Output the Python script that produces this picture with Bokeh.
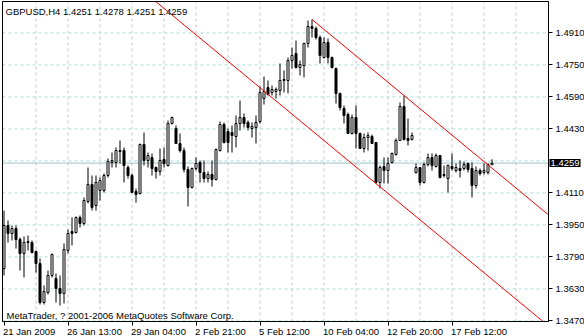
from bokeh.plotting import figure
from bokeh.models import Range1d, FixedTicker, Label, NumeralTickFormatter, CustomJSTickFormatter
from bokeh.embed import file_html
from bokeh.resources import INLINE

symbol = "GBPUSD,H4"
last_ohlc = [1.4251, 1.4278, 1.4251, 1.4259]
copyright_text = "MetaTrader, ? 2001-2006 MetaQuotes Software Corp."

opens = [1.3732, 1.3947, 1.3907, 1.3932, 1.3877, 1.3807, 1.3862, 1.3862, 1.3817, 1.3757,
         1.3562, 1.3612, 1.3697, 1.3682, 1.3632, 1.3607, 1.3822, 1.3917, 1.3912, 1.3987,
         1.3957, 1.4067, 1.4152, 1.4047, 1.4122, 1.4122, 1.4197, 1.4262, 1.4262, 1.4317,
         1.4322, 1.4237, 1.4197, 1.4117, 1.4107, 1.4352, 1.4272, 1.4287, 1.4237, 1.4217,
         1.4277, 1.4247, 1.4457, 1.4432, 1.4357, 1.4322, 1.4227, 1.4137, 1.4232, 1.4262,
         1.4212, 1.4182, 1.4202, 1.4177, 1.4322, 1.4452, 1.4417, 1.4412, 1.4392, 1.4457,
         1.4487, 1.4462, 1.4432, 1.4437, 1.4467, 1.4582, 1.4637, 1.4612, 1.4617, 1.4622,
         1.4672, 1.4672, 1.4772, 1.4807, 1.4737, 1.4747, 1.4857, 1.4942, 1.4932, 1.4887,
         1.4787, 1.4862, 1.4787, 1.4732, 1.4607, 1.4532, 1.4502, 1.4407, 1.4487, 1.4407,
         1.4332, 1.4387, 1.4392, 1.4362, 1.4162, 1.4242, 1.4222, 1.4262, 1.4302, 1.4372,
         1.4542, 1.4382, 1.4377, 1.4212, 1.4237, 1.4162, 1.4252, 1.4287, 1.4242, 1.4297,
         1.4197, 1.4182, 1.4242, 1.4222, 1.4232, 1.4232, 1.4257, 1.4232, 1.4147, 1.4222,
         1.4212, 1.4212, 1.4251]
highs = [1.4022, 1.3972, 1.3947, 1.3947, 1.3887, 1.3892, 1.3897, 1.3872, 1.3822, 1.3782,
         1.3647, 1.3722, 1.3807, 1.3707, 1.3697, 1.3857, 1.3927, 1.3987, 1.3992, 1.3997,
         1.4087, 1.4237, 1.4197, 1.4197, 1.4187, 1.4207, 1.4282, 1.4312, 1.4337, 1.4372,
         1.4337, 1.4247, 1.4207, 1.4132, 1.4357, 1.4412, 1.4312, 1.4307, 1.4242, 1.4332,
         1.4337, 1.4472, 1.4492, 1.4447, 1.4407, 1.4337, 1.4242, 1.4237, 1.4287, 1.4272,
         1.4272, 1.4217, 1.4272, 1.4332, 1.4467, 1.4462, 1.4432, 1.4447, 1.4497, 1.4572,
         1.4507, 1.4472, 1.4462, 1.4497, 1.4642, 1.4692, 1.4672, 1.4647, 1.4637, 1.4757,
         1.4722, 1.4787, 1.4837, 1.4872, 1.4772, 1.4862, 1.4972, 1.4977, 1.4942, 1.4897,
         1.4887, 1.4882, 1.4792, 1.4737, 1.4612, 1.4547, 1.4512, 1.4502, 1.4547, 1.4412,
         1.4407, 1.4412, 1.4402, 1.4362, 1.4247, 1.4287, 1.4287, 1.4312, 1.4382, 1.4562,
         1.4597, 1.4482, 1.4412, 1.4257, 1.4237, 1.4262, 1.4307, 1.4307, 1.4307, 1.4297,
         1.4247, 1.4252, 1.4307, 1.4257, 1.4272, 1.4267, 1.4262, 1.4262, 1.4242, 1.4232,
         1.4257, 1.4257, 1.4278]
lows = [1.3697, 1.3862, 1.3872, 1.3832, 1.3722, 1.3687, 1.3822, 1.3807, 1.3712, 1.3552,
        1.3552, 1.3602, 1.3687, 1.3562, 1.3547, 1.3557, 1.3807, 1.3847, 1.3907, 1.3937,
        1.3947, 1.4057, 1.4022, 1.4022, 1.4072, 1.4112, 1.4187, 1.4237, 1.4237, 1.4257,
        1.4162, 1.4182, 1.4112, 1.4062, 1.4102, 1.4247, 1.4237, 1.4197, 1.4182, 1.4197,
        1.4237, 1.4242, 1.4452, 1.4357, 1.4312, 1.4212, 1.4042, 1.4132, 1.4222, 1.4162,
        1.4162, 1.4162, 1.4142, 1.4172, 1.4317, 1.4357, 1.4312, 1.4312, 1.4337, 1.4422,
        1.4437, 1.4422, 1.4387, 1.4357, 1.4457, 1.4552, 1.4597, 1.4597, 1.4582, 1.4597,
        1.4612, 1.4607, 1.4732, 1.4732, 1.4697, 1.4687, 1.4837, 1.4887, 1.4877, 1.4757,
        1.4782, 1.4757, 1.4732, 1.4557, 1.4522, 1.4457, 1.4407, 1.4402, 1.4332, 1.4332,
        1.4312, 1.4322, 1.4357, 1.4157, 1.4132, 1.4157, 1.4157, 1.4257, 1.4297, 1.4372,
        1.4372, 1.4347, 1.4372, 1.4207, 1.4147, 1.4157, 1.4242, 1.4222, 1.4237, 1.4182,
        1.4187, 1.4112, 1.4222, 1.4212, 1.4187, 1.4222, 1.4212, 1.4087, 1.4132, 1.4197,
        1.4202, 1.4202, 1.4251]
closes = [1.3947, 1.3907, 1.3932, 1.3877, 1.3807, 1.3862, 1.3867, 1.3812, 1.3757, 1.3562,
          1.3617, 1.3697, 1.3802, 1.3632, 1.3607, 1.3827, 1.3907, 1.3907, 1.3987, 1.3957,
          1.4072, 1.4152, 1.4037, 1.4162, 1.4172, 1.4197, 1.4267, 1.4272, 1.4322, 1.4322,
          1.4247, 1.4197, 1.4112, 1.4102, 1.4352, 1.4272, 1.4297, 1.4232, 1.4217, 1.4272,
          1.4257, 1.4457, 1.4487, 1.4357, 1.4322, 1.4227, 1.4137, 1.4232, 1.4257, 1.4212,
          1.4182, 1.4202, 1.4177, 1.4327, 1.4452, 1.4362, 1.4362, 1.4397, 1.4457, 1.4487,
          1.4457, 1.4437, 1.4442, 1.4462, 1.4612, 1.4617, 1.4602, 1.4627, 1.4627, 1.4672,
          1.4677, 1.4772, 1.4797, 1.4737, 1.4752, 1.4857, 1.4942, 1.4932, 1.4887, 1.4797,
          1.4862, 1.4787, 1.4737, 1.4607, 1.4537, 1.4497, 1.4407, 1.4487, 1.4407, 1.4332,
          1.4387, 1.4397, 1.4357, 1.4162, 1.4237, 1.4222, 1.4257, 1.4307, 1.4372, 1.4542,
          1.4377, 1.4372, 1.4397, 1.4237, 1.4162, 1.4252, 1.4287, 1.4247, 1.4297, 1.4187,
          1.4202, 1.4247, 1.4232, 1.4237, 1.4222, 1.4252, 1.4227, 1.4147, 1.4222, 1.4207,
          1.4222, 1.4252, 1.4259]

time_label_bars = [0, 16, 32, 48, 64, 80, 96, 112]
time_labels = ["21 Jan 2009", "26 Jan 13:00", "29 Jan 04:00", "2 Feb 21:00",
               "5 Feb 12:00", "10 Feb 04:00", "12 Feb 20:00", "17 Feb 12:00"]
price_ticks = [1.4910, 1.4750, 1.4590, 1.4430, 1.4110, 1.3950, 1.3790, 1.3630, 1.3470]
price_grid = [1.4910, 1.4750, 1.4590, 1.4430, 1.4270, 1.4110, 1.3950, 1.3790, 1.3630, 1.3470]
bid = 1.4259
channel_bars = [77, 100]
channel_prices = [1.4977, 1.4597]
channel_low_bar = 93

FONT = "Liberation Sans"
FS = "9.5px"
W, H = 584, 336
n = len(opens)
xs = list(range(n))

# chart area (bars / prices) and the pixel scale of the MetaTrader window
X0, X1 = -0.375, 136.125          # chart left / right edge in bar units
Y0, Y1 = 1.3467, 1.5067           # chart bottom / top edge in price units
PX_BAR, PX_PRICE = 4.0, 0.0005    # px per bar, price per px
LEFT, TOP, RIGHT, BOTTOM = 2, 1, 36, 15

p = figure(width=W, height=H, output_backend="svg", toolbar_location=None,
           x_range=Range1d(X0 - LEFT / PX_BAR, X1 + RIGHT / PX_BAR),
           y_range=Range1d(Y0 - BOTTOM * PX_PRICE, Y1 + TOP * PX_PRICE),
           y_axis_location="right", min_border=0)
p.background_fill_color = "white"
p.border_fill_color = "white"
p.outline_line_color = None
p.xgrid.visible = False
p.ygrid.visible = False

# grid (kept inside the chart area)
vgrid = list(range(8, int(X1), 8))
p.segment(vgrid, [Y0] * len(vgrid), vgrid, [Y1] * len(vgrid),
          line_color="#c4c4c4", line_width=1, line_dash="3 3")
p.segment([X0] * len(price_grid), price_grid, [X1] * len(price_grid), price_grid,
          line_color="#a8dcdc", line_width=1, line_dash="3 3")
# bid line
p.segment([X0], [bid], [X1], [bid], line_color="#9fc4c4", line_width=1)

# candles
body_top = [max(o, c) for o, c in zip(opens, closes)]
body_bot = [min(o, c) for o, c in zip(opens, closes)]
fills = ["white" if c >= o else "black" for o, c in zip(opens, closes)]
p.segment(xs, highs, xs, lows, line_color="black", line_width=1)
p.vbar(x=xs, width=0.5, top=body_top, bottom=body_bot, fill_color=fills,
       line_color="black", line_width=1)

# equidistant channel, clipped to the chart area
slope = (channel_prices[1] - channel_prices[0]) / (channel_bars[1] - channel_bars[0])
offset = lows[channel_low_bar] - (channel_prices[0] + slope * (channel_low_bar - channel_bars[0]))

def channel_line(x_from, shift):
    y_at = lambda x: channel_prices[0] + slope * (x - channel_bars[0]) + shift
    xa, xb = max(x_from, X0), X1
    if y_at(xa) > Y1:
        xa = channel_bars[0] + (Y1 - shift - channel_prices[0]) / slope
    if y_at(xb) < Y0:
        xb = channel_bars[0] + (Y0 - shift - channel_prices[0]) / slope
    return [xa, xb], [y_at(xa), y_at(xb)]

ux, uy = channel_line(channel_bars[0], 0.0)
lx, ly = channel_line(X0, offset)
p.line(ux, uy, line_color="#ff0000", line_width=1)
p.line(lx, ly, line_color="#ff0000", line_width=1)

# chart border
p.quad(left=[X0], right=[X1], bottom=[Y0], top=[Y1], fill_color=None,
       line_color="black", line_width=1)

# time axis (tick marks only) at the chart bottom
xa = p.xaxis[0]
xa.fixed_location = Y0
xa.bounds = (X0, X1)
xa.ticker = FixedTicker(ticks=time_label_bars)
xa.formatter = CustomJSTickFormatter(code="return ''")
xa.major_label_text_font_size = "1px"
xa.major_tick_out = 4
xa.major_tick_in = 0
xa.minor_tick_line_color = None
xa.axis_line_color = "black"
xa.major_tick_line_color = "black"
# time labels start at their tick, as in MetaTrader
for b, t in zip(time_label_bars, time_labels):
    p.add_layout(Label(x=b, y=5, x_units="data", y_units="screen", text=t, x_offset=-1,
                       text_font=FONT, text_font_size=FS, text_baseline="alphabetic",
                       text_align="left", text_color="black"))

# price axis at the chart right edge
ya = p.yaxis[0]
ya.fixed_location = X1
ya.bounds = (Y0, Y1)
ya.ticker = FixedTicker(ticks=price_ticks)
ya.formatter = NumeralTickFormatter(format="0.0000")
ya.major_tick_out = 4
ya.major_tick_in = 0
ya.minor_tick_line_color = None
ya.axis_line_color = "black"
ya.major_tick_line_color = "black"
ya.major_label_standoff = 3
ya.major_label_text_font = FONT
ya.major_label_text_font_size = FS
ya.major_label_text_color = "black"

# current price box
p.add_layout(Label(x=X1, y=bid, x_units="data", y_units="data", x_offset=1,
                   text="%.4f" % bid, text_font=FONT, text_font_size=FS,
                   text_baseline="middle", text_align="left", text_color="white",
                   background_fill_color="black", padding=1))

header = symbol + "  " + " ".join("%.4f" % v for v in last_ohlc)
p.add_layout(Label(x=5, y=H - 11, x_units="screen", y_units="screen", text=header,
                   text_font=FONT, text_font_size=FS, text_baseline="alphabetic",
                   text_color="black"))
p.add_layout(Label(x=6, y=H - 315, x_units="screen", y_units="screen", text=copyright_text,
                   text_font=FONT, text_font_size=FS, text_baseline="alphabetic",
                   text_color="black"))

open("out.html", "w").write(file_html(p, INLINE))
